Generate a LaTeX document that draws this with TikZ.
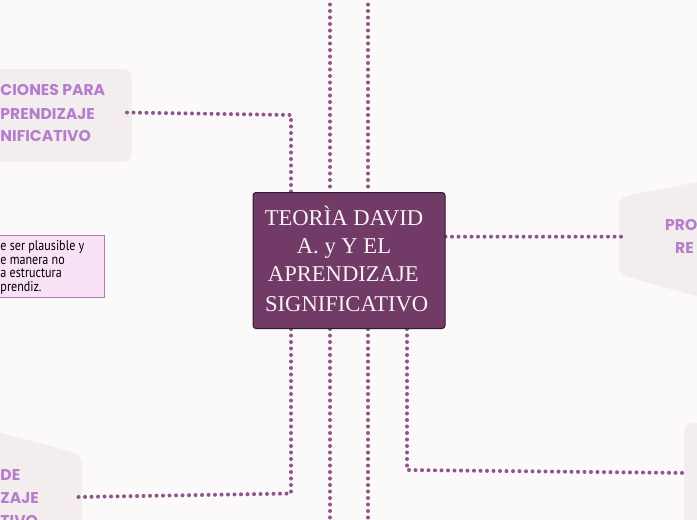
\documentclass[tikz,border=0pt]{standalone}
\usepackage{fontspec}
\newfontfamily\dispfont{Poppins}
\newfontfamily\mainserif{Liberation Serif}
\newfontfamily\notefont{PT Sans}[FakeStretch=0.85]
\definecolor{bgc}{RGB}{252,249,251}
\definecolor{topicfill}{RGB}{244,237,238}
\definecolor{topictext}{RGB}{180,125,205}
\definecolor{dotc}{RGB}{142,86,137}
\definecolor{mainfill}{RGB}{114,58,102}
\definecolor{mainborder}{RGB}{45,28,43}
\definecolor{maintext}{RGB}{247,242,247}
\definecolor{notefill}{RGB}{249,226,246}
\definecolor{noteborder}{RGB}{176,124,172}
\pgfdeclarelayer{bgl}
\pgfdeclarelayer{shapes}
\pgfdeclarelayer{conn}
\pgfsetlayers{bgl,shapes,conn,main}
\begin{document}
\begin{tikzpicture}[x=1pt,y=-1pt,
  dots/.style={draw=dotc,line width=4pt,line cap=round,dash pattern=on 0pt off 6.5pt},
  topic/.style={rectangle,fill=topicfill,draw=none,rounded corners=8pt,inner sep=0pt},
  topictxt/.style={font=\dispfont\bfseries\fontsize{15.6}{19}\selectfont,text=topictext,inner sep=0pt},
  maintxt/.style={font=\mainserif\fontsize{22.6}{28}\selectfont,text=maintext,inner sep=0pt,anchor=base},
  notetxt/.style={font=\notefont\fontsize{14.2}{13.5}\selectfont,text=black,inner sep=0pt,anchor=base west}]
\useasboundingbox (0,0) rectangle (697,520);
\begin{pgfonlayer}{bgl}
\fill[bgc] (0,0) rectangle (697,520);
\end{pgfonlayer}

\begin{pgfonlayer}{shapes}
% top-left topic
\node[topic,minimum width=151.7pt,minimum height=92.7pt] (tl) at (55.85,115.35) {};
% bottom-left topic
\fill[topicfill,rounded corners=9pt] (-10,430) -- (82,454.4) -- (82,530) -- (-10,530) -- cycle;
% right topic
\fill[topicfill,rounded corners=8pt] (619,197.2) -- (710,179.5) -- (710,300) -- (619,274.5) -- cycle;
% bottom-right topic
\node[topic,minimum width=36pt,minimum height=117pt] (br) at (702,481.5) {};
% note box
\node[rectangle,fill=notefill,draw=noteborder,line width=0.8pt,minimum width=109pt,minimum height=62.3pt,inner sep=0pt] (note) at (49.5,266.15) {};
\end{pgfonlayer}

% main topic
\node[rectangle,draw=mainborder,fill=mainfill,rounded corners=3pt,line width=1pt,minimum width=192pt,minimum height=136pt,inner sep=0pt] (main) at (349,260.5) {};
\node[maintxt] (m1) at (344,225) {TEORÌA DAVID};
\node[maintxt] (m2) at (344,253.3) {A. y Y EL};
\node[maintxt] (m3) at (343.3,281.7) {APRENDIZAJE};
\node[maintxt] (m4) at (346.7,311) {SIGNIFICATIVO};

% topic texts
\node[topictxt,anchor=base west] (tl1) at (0.3,95) {CIONES PARA};
\node[topictxt,anchor=base west] (tl2) at (0.3,119) {PRENDIZAJE};
\node[topictxt,anchor=base west] (tl3) at (0.3,141.7) {NIFICATIVO};
\node[topictxt,anchor=base west] (bl1) at (0.3,480) {DE};
\node[topictxt,anchor=base west] (bl2) at (0.3,503) {ZAJE};
\node[topictxt,anchor=base west] (bl3) at (0.3,526) {TIVO};
\node[topictxt,anchor=base west] (rt1) at (665,230) {PRO};
\node[topictxt,anchor=base west] (rt2) at (675,253) {RE};

% note text
\node[notetxt] (n1) at (0.3,250.5) {e ser plausible y};
\node[notetxt] (n2) at (0.3,264) {e manera no};
\node[notetxt] (n3) at (0.3,277.5) {a estructura};
\node[notetxt] (n4) at (0.3,291) {prendiz.};

% connector anchor points
\coordinate (tlc) at (127,112.5);
\coordinate (k1) at (291,115);
\coordinate (t2) at (330,-2);
\coordinate (t3) at (368,-2);
\coordinate (k2) at (291,493.5);
\coordinate (blc) at (78,497);
\coordinate (b2) at (330,523);
\coordinate (b3) at (368,523);
\coordinate (k3) at (407,470);
\coordinate (brc) at (688,473);
\coordinate (rtc) at (622.7,236.7);

\begin{pgfonlayer}{conn}
\draw[dots] (tlc) -- (k1) -- (k1 |- main.north);
\draw[dots] (t2) -- (t2 |- main.north);
\draw[dots] (t3) -- (t3 |- main.north);
\draw[dots] (k2 |- main.south) -- (k2) -- (blc);
\draw[dots] (b2 |- main.south) -- (b2);
\draw[dots] (b3 |- main.south) -- (b3);
\draw[dots] (k3 |- main.south) -- (k3) -- (brc);
\draw[dots] (main.east |- rtc) -- (rtc);
\end{pgfonlayer}
\end{tikzpicture}
\end{document}
